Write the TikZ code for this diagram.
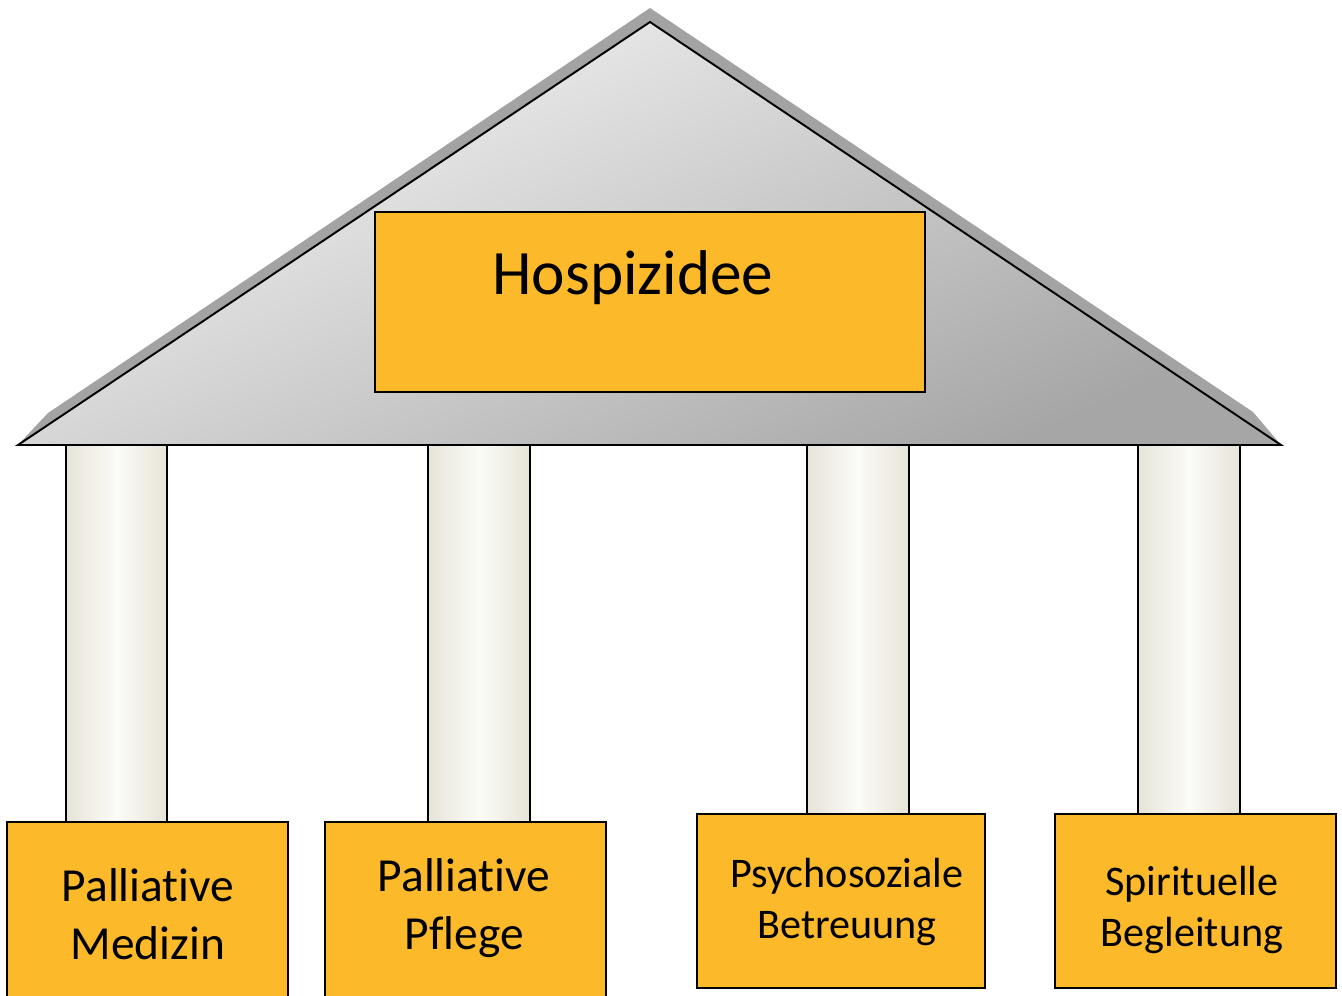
\documentclass[tikz,border=0pt]{standalone}
\usepackage{fontspec}
\setmainfont{Carlito}[Ligatures=NoCommon]
\usetikzlibrary{fit}
\definecolor{pillarorange}{RGB}{252,185,42}
\definecolor{roofshadow}{RGB}{163,163,163}
\definecolor{rooftop}{RGB}{246,246,246}
\definecolor{roofbottom}{RGB}{166,166,166}
\definecolor{columnedge}{RGB}{231,228,216}
\definecolor{columnmid}{RGB}{251,251,247}

\begin{document}
\begin{tikzpicture}[
    x=0.02cm, y=-0.02cm,
    roof/.style={draw=black, line width=1.1pt, top color=rooftop, bottom color=roofbottom, shading angle=25},
    column/.style={draw=black, line width=0.9pt, left color=columnedge, right color=columnedge, middle color=columnmid},
    box/.style={draw=black, line width=0.6pt, fill=pillarorange, inner sep=0pt},
    textlarge/.style={align=center, font=\fontsize{27}{33}\selectfont},
    textsmall/.style={align=center, font=\fontsize{24}{29}\selectfont},
  ]
  \useasboundingbox (0,0) rectangle (1342,996);
  % roof
  \fill[roofshadow] (18,445) -- (48,413) -- (650,8) -- (1253,412) -- (1281,445) -- cycle;
  \shadedraw[roof] (18,445) -- (650,22) -- (1281,445) -- cycle;
  \node[box, fit={(375,212) (925,392)}] (idee) {};
  \node[font=\fontsize{36}{44}\selectfont] (ideetext) at (633,278) {Hospizidee};
  % columns
  \shadedraw[column] (66,445) rectangle (167,822);
  \shadedraw[column] (428,445) rectangle (530,822);
  \shadedraw[column] (807,445) rectangle (909,814);
  \shadedraw[column] (1138,445) rectangle (1240,814);
  % bases
  \node[box, fit={(7,822) (288,1000)}] (medizin) {};
  \node[box, fit={(325,822) (606,1000)}] (pflege) {};
  \node[box, fit={(697,814) (985,988)}] (betreuung) {};
  \node[box, fit={(1055,814) (1336,988)}] (begleitung) {};
  \node[textlarge] (medizintext) at (148,914) {Palliative\\Medizin};
  \node[textlarge] (pflegetext) at (464,908) {Palliative\\Pflege};
  \node[textsmall] (betreuungtext) at (847,902) {Psychosoziale\\Betreuung};
  \node[textsmall] (begleitungtext) at (1192,910) {Spirituelle\\Begleitung};
\end{tikzpicture}
\end{document}
